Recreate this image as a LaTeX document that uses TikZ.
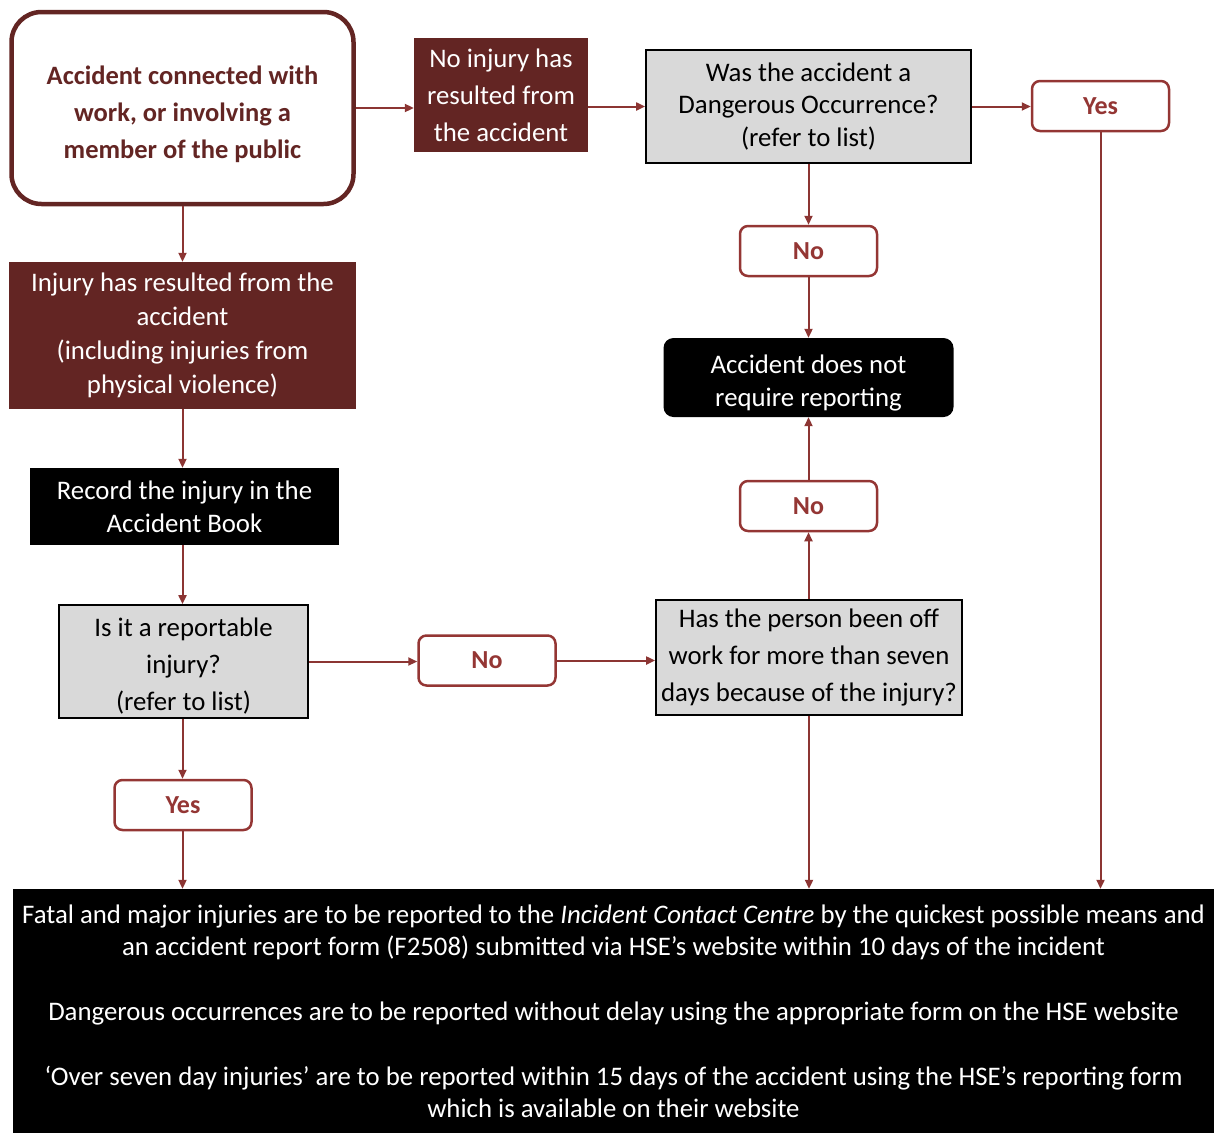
\documentclass[tikz,border=0pt]{standalone}
\usepackage{fontspec}
\setmainfont{Carlito}
\usetikzlibrary{arrows.meta,positioning}
\definecolor{maroonx}{HTML}{632523}
\definecolor{redx}{HTML}{943634}
\definecolor{arrowx}{HTML}{8C3533}
\definecolor{greyx}{HTML}{D9D9D9}
\tikzset{
  ar/.style={-{Triangle[length=9pt,width=8pt]},line width=2pt,arrowx},
  startbox/.style={draw=maroonx,line width=4.5pt,rounded corners=30pt,fill=white,text=maroonx,align=center,inner sep=0pt,font=\fontsize{26.5}{37}\selectfont\bfseries},
  fillbox/.style={fill=maroonx,text=white,align=center,inner sep=0pt,font=\fontsize{26.8}{37}\selectfont},
  askbox/.style={draw=black,line width=1.8pt,fill=greyx,align=center,inner sep=0pt,font=\fontsize{26.8}{37}\selectfont},
  darkbox/.style={fill=black,text=white,align=center,inner sep=0pt,font=\fontsize{26.8}{33}\selectfont},
  ansbox/.style={draw=redx,line width=2.5pt,rounded corners=8pt,fill=white,text=redx,inner sep=0pt,minimum width=137pt,minimum height=50pt,font=\fontsize{26}{30}\selectfont\bfseries}
}
\begin{document}
\begin{tikzpicture}[x=1pt,y=-1pt]
\useasboundingbox (0,0) rectangle (1214,1133);
% top row
\node[startbox,minimum width=342pt,minimum height=192pt] (start) at (182.5,108) {\rule{0pt}{32pt}Accident connected with\\work, or involving a\\member of the public};
\node[fillbox,minimum width=174pt,minimum height=114pt] (noinj) at (501,95) {No injury has\\resulted from\\the accident};
\node[askbox,minimum width=325pt,minimum height=113pt,font=\fontsize{26.8}{32.5}\selectfont] (occ) at (808.5,106.5) {Was the accident a\\Dangerous Occurrence?\\(refer to list)};
\node[ansbox] (yes1) at (1100.5,106) {Yes};
% right column
\node[ansbox] (no1) at (808.5,251) {No};
\node[darkbox,rounded corners=10pt,minimum width=290pt,minimum height=79pt] (notreq) at (808.5,377.5) {\rule{0pt}{30pt}Accident does not\\require reporting};
\node[ansbox] (no2) at (808.5,506) {No};
\node[askbox,minimum width=306pt,minimum height=115pt] (sev) at (809,657.5) {Has the person been off\\work for more than seven\\days because of the injury?};
% left column
\node[fillbox,minimum width=347pt,minimum height=147pt,font=\fontsize{26.8}{34}\selectfont] (inj) at (182.5,335.5) {Injury has resulted from the\\accident\\(including injuries from\\physical violence)};
\node[darkbox,minimum width=309pt,minimum height=77pt] (record) at (184.5,506.5) {Record the injury in the\\Accident Book};
\node[askbox,minimum width=249pt,minimum height=113pt] (report) at (183.5,661.5) {\rule{0pt}{28pt}Is it a reportable\\injury?\\(refer to list)};
\node[ansbox] (no3) at (487,660.5) {No};
\node[ansbox] (yes2) at (183,805) {Yes};
% bottom
\node[darkbox,minimum width=1201pt,minimum height=244pt,font=\fontsize{26.8}{32}\selectfont] (final) at (613.5,1011) {Fatal and major injuries are to be reported to the \textit{Incident Contact Centre} by the quickest possible means and\\an accident report form (F2508) submitted via HSE’s website within 10 days of the incident\\[33pt]Dangerous occurrences are to be reported without delay using the appropriate form on the HSE website\\[33pt]‘Over seven day injuries’ are to be reported within 15 days of the accident using the HSE’s reporting form\\which is available on their website};
% connectors
\draw[ar] (start.east) -- (start.east -| noinj.west);
\draw[ar] (occ.west -| noinj.east) -- (occ.west);
\draw[ar] (occ.east) -- (occ.east -| yes1.west);
\draw[ar] (occ.south) -- (no1.north);
\draw[ar] (no1.south) -- (notreq.north);
\draw[ar] (yes1.south) -- (yes1.south |- final.north);
\draw[ar] (start.south) -- (start.south |- inj.north);
\draw[ar] (inj.south) -- (inj.south |- record.north);
\draw[ar] (record.south -| inj.south) -- (inj.south |- report.north);
\draw[ar] (report.east) -- (report.east -| no3.west);
\draw[ar] (no3.east) -- (no3.east -| sev.west);
\draw[ar] (sev.north -| no2.south) -- (no2.south);
\draw[ar] (no2.north) -- (notreq.south);
\draw[ar] (report.south -| inj.south) -- (inj.south |- yes2.north);
\draw[ar] (yes2.south -| inj.south) -- (inj.south |- final.north);
\draw[ar] (sev.south) -- (sev.south |- final.north);
\end{tikzpicture}
\end{document}
